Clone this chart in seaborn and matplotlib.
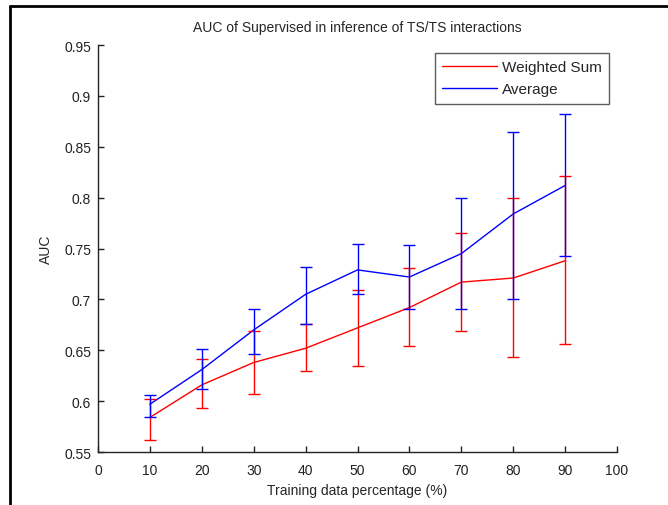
import matplotlib
matplotlib.use("Agg")
import matplotlib.pyplot as plt
from matplotlib.lines import Line2D
import numpy as np
import pandas as pd
import seaborn as sns

# Values
pct = [10, 20, 30, 40, 50, 60, 70, 80, 90]

ws_mean = [0.584, 0.616, 0.638, 0.652, 0.672, 0.692, 0.717, 0.721, 0.738]
ws_low = [0.562, 0.593, 0.607, 0.630, 0.635, 0.654, 0.669, 0.643, 0.656]
ws_high = [0.602, 0.641, 0.669, 0.676, 0.709, 0.731, 0.765, 0.800, 0.821]

avg_mean = [0.597, 0.631, 0.670, 0.705, 0.729, 0.722, 0.745, 0.784, 0.812]
avg_low = [0.584, 0.612, 0.646, 0.676, 0.705, 0.691, 0.691, 0.700, 0.743]
avg_high = [0.606, 0.651, 0.691, 0.732, 0.754, 0.753, 0.800, 0.865, 0.882]

series_names = ["Weighted Sum", "Average"]
colors = {"Weighted Sum": "#ff0000", "Average": "#0000ff"}

df = pd.DataFrame({
    "pct": pct * 2,
    "auc": ws_mean + avg_mean,
    "low": ws_low + avg_low,
    "high": ws_high + avg_high,
    "method": [series_names[0]] * len(pct) + [series_names[1]] * len(pct),
})

sns.set_style("white")
plt.rcParams["font.family"] = ["Liberation Sans", "DejaVu Sans"]

fig = plt.figure(figsize=(6.68, 5.06), dpi=100)
ax = fig.add_axes([0.1467, 0.1047, 0.777, 0.8043])

sns.lineplot(data=df, x="pct", y="auc", hue="method", palette=colors,
             linewidth=1.0, ax=ax, errorbar=None)

# error bars
for name in series_names:
    sub = df[df["method"] == name]
    err = [sub["auc"] - sub["low"], sub["high"] - sub["auc"]]
    ax.errorbar(sub["pct"], sub["auc"], yerr=err, fmt="none",
                ecolor=colors[name], elinewidth=1.0, capsize=4.3,
                capthick=1.0)

ax.set_xlim(0, 100)
ax.set_ylim(0.55, 0.95)
ax.set_xticks(np.arange(0, 101, 10))
ax.set_yticks(np.arange(0.55, 0.951, 0.05))
ax.set_yticklabels(["0.55", "0.6", "0.65", "0.7", "0.75", "0.8", "0.85", "0.9", "0.95"])

ax.set_title("AUC of Supervised in inference of TS/TS interactions",
             fontsize=10, pad=10)
ax.set_xlabel("Training data percentage (%)", fontsize=10, labelpad=4)
ax.set_ylabel("AUC", fontsize=10, labelpad=8)

for s in ["top", "right"]:
    ax.spines[s].set_visible(False)
for s in ["left", "bottom"]:
    ax.spines[s].set_color("#222222")
    ax.spines[s].set_linewidth(1.0)

ax.tick_params(direction="in", length=4, width=1, colors="#222222",
               labelsize=10, labelcolor="#222222", pad=5)
ax.tick_params(axis="x", bottom=True, pad=8)
ax.tick_params(axis="y", left=True)

leg = ax.legend(loc="upper right", fontsize=11, frameon=True, fancybox=False,
                edgecolor="#333333", handlelength=3.6, handletextpad=0.3,
                labelspacing=0.5, borderaxespad=0.5, borderpad=0.5)
leg.get_frame().set_linewidth(1.0)
for h in leg.get_lines():
    h.set_linewidth(1.0)

# screenshot border on left and top
fig.add_artist(Line2D([0.0145, 0.0145], [0, 0.986], transform=fig.transFigure,
                      color="black", linewidth=2))
fig.add_artist(Line2D([0.0145, 1.0], [0.986, 0.986], transform=fig.transFigure,
                      color="black", linewidth=2))

fig.savefig("out.png", dpi=100)
